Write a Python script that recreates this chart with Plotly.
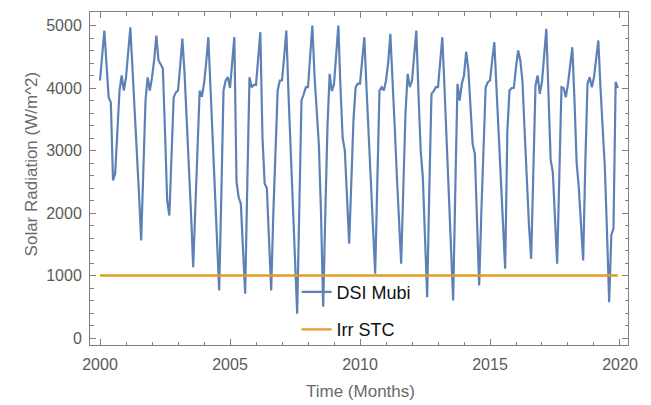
import plotly.graph_objects as go

# Monthly DSI values (W/m^2), Jan..Dec
dsi_2000 = [4120, 4520, 4920, 4380, 3850, 3770, 2520, 2630, 3300, 3960, 4200, 3960]
dsi_2001 = [4170, 4570, 4970, 4300, 3700, 3100, 2300, 1560, 2700, 3800, 4170, 3960]
dsi_2002 = [4170, 4450, 4840, 4440, 4380, 4310, 3300, 2200, 1960, 2900, 3850, 3930]
dsi_2003 = [3960, 4350, 4790, 4250, 3550, 2800, 2000, 1133, 2100, 3100, 3960, 3860]
dsi_2004 = [4070, 4400, 4813, 4000, 3200, 2400, 1600, 760, 2300, 3960, 4120, 4173]
dsi_2005 = [4000, 4400, 4813, 2500, 2250, 2150, 1300, 707, 2500, 4173, 4013, 4050]
dsi_2006 = [4050, 4450, 4893, 3200, 2470, 2400, 1500, 760, 2000, 3100, 3960, 4120]
dsi_2007 = [4120, 4500, 4920, 3900, 3000, 2100, 1200, 390, 2100, 3800, 3900, 4013]
dsi_2008 = [4013, 4500, 5000, 4200, 3590, 3100, 2000, 500, 2000, 3400, 4227, 3950]
dsi_2009 = [4060, 4500, 5000, 4000, 3200, 3000, 2300, 1510, 2500, 3500, 4013, 4070]
dsi_2010 = [4070, 4400, 4813, 4000, 3200, 2500, 1800, 1030, 2500, 3960, 4013, 3960]
dsi_2011 = [4120, 4400, 4867, 4200, 3400, 2600, 1900, 1187, 2400, 3600, 4227, 4013]
dsi_2012 = [4120, 4500, 4920, 3900, 3000, 2570, 1600, 653, 2400, 3907, 3950, 4013]
dsi_2013 = [4013, 4400, 4813, 4000, 3200, 2400, 1500, 600, 2400, 4067, 3800, 4067]
dsi_2014 = [4200, 4580, 4300, 3600, 3100, 2950, 2000, 840, 2000, 3200, 4013, 4093]
dsi_2015 = [4120, 4440, 4733, 4000, 3300, 2600, 1800, 1107, 3300, 3960, 4000, 4000]
dsi_2016 = [4330, 4600, 4440, 4100, 3300, 2500, 1800, 1267, 2900, 4040, 4200, 3907]
dsi_2017 = [4100, 4500, 4947, 3900, 2850, 2650, 1900, 1187, 2600, 4013, 4000, 3853]
dsi_2018 = [4067, 4350, 4653, 3800, 2800, 2400, 1800, 1240, 2800, 4067, 4173, 4013]
dsi_2019 = [4173, 4450, 4760, 4000, 3300, 2733, 1700, 573, 1650, 1750, 4100, 4000]

start_year = 2000
irr_stc = 1000  # W/m^2 at STC

x_ticks = [2000, 2005, 2010, 2015, 2020]
y_ticks = [0, 1000, 2000, 3000, 4000, 5000]

dsi_mubi = (dsi_2000 + dsi_2001 + dsi_2002 + dsi_2003 + dsi_2004 + dsi_2005 +
            dsi_2006 + dsi_2007 + dsi_2008 + dsi_2009 + dsi_2010 + dsi_2011 +
            dsi_2012 + dsi_2013 + dsi_2014 + dsi_2015 + dsi_2016 + dsi_2017 +
            dsi_2018 + dsi_2019)
time_months = [start_year + i / 12 for i in range(len(dsi_mubi))]

BLUE = "#5E81B5"
ORANGE = "#E19C24"
FRAME = "#7f7f7f"
LABEL = "#5a5a5a"
TITLE = "#6a6a6a"
FONT = "Liberation Sans, Arial, sans-serif"

fig = go.Figure()
fig.add_trace(go.Scatter(x=time_months, y=dsi_mubi, mode="lines", name="DSI Mubi",
                         legendgroup="a",
                         line=dict(color=BLUE, width=2.2)))
fig.add_trace(go.Scatter(x=time_months, y=[irr_stc] * len(time_months), mode="lines",
                         name="Irr STC", legendgroup="b",
                         line=dict(color=ORANGE, width=2.4)))

axis_common = dict(
    showgrid=False, zeroline=False, showline=True, linecolor=FRAME, linewidth=1,
    mirror="allticks", ticks="inside", ticklen=6, tickwidth=1, tickcolor=FRAME,
    tickfont=dict(family=FONT, size=16, color=LABEL), automargin=False,
)

fig.update_xaxes(
    range=[1999.615, 2020.308], tickmode="array", tickvals=x_ticks,
    ticktext=[str(v) for v in x_ticks], ticklabelstandoff=5,
    minor=dict(ticks="inside", ticklen=3.5, dtick=1, tick0=2000, tickcolor=FRAME),
    **axis_common,
)
fig.update_yaxes(
    range=[-112, 5216], tickmode="array", tickvals=y_ticks,
    ticktext=[str(v) for v in y_ticks], ticklabelstandoff=4,
    minor=dict(ticks="inside", ticklen=3.5, dtick=200, tick0=0, tickcolor=FRAME),
    **axis_common,
)

fig.add_annotation(
    text="Solar Radiation (W/m^2)", textangle=-90, showarrow=False,
    xref="paper", yref="paper", x=-0.108, y=0.545, xanchor="center", yanchor="middle",
    font=dict(family=FONT, size=17, color=TITLE),
)
fig.add_annotation(
    text="Time (Months)", showarrow=False,
    xref="paper", yref="paper", x=0.502, y=-0.141, xanchor="center", yanchor="middle",
    font=dict(family=FONT, size=17, color=TITLE),
)

fig.update_layout(
    width=651, height=405,
    margin=dict(l=90, r=23, t=12, b=60),
    plot_bgcolor="white", paper_bgcolor="white",
    showlegend=True,
    legend=dict(x=0.384, y=0.214, xanchor="left", yanchor="top",
                bgcolor="rgba(0,0,0,0)", borderwidth=0, tracegroupgap=11,
                font=dict(family=FONT, size=18, color="#111111")),
)

fig.write_html("out.html")
